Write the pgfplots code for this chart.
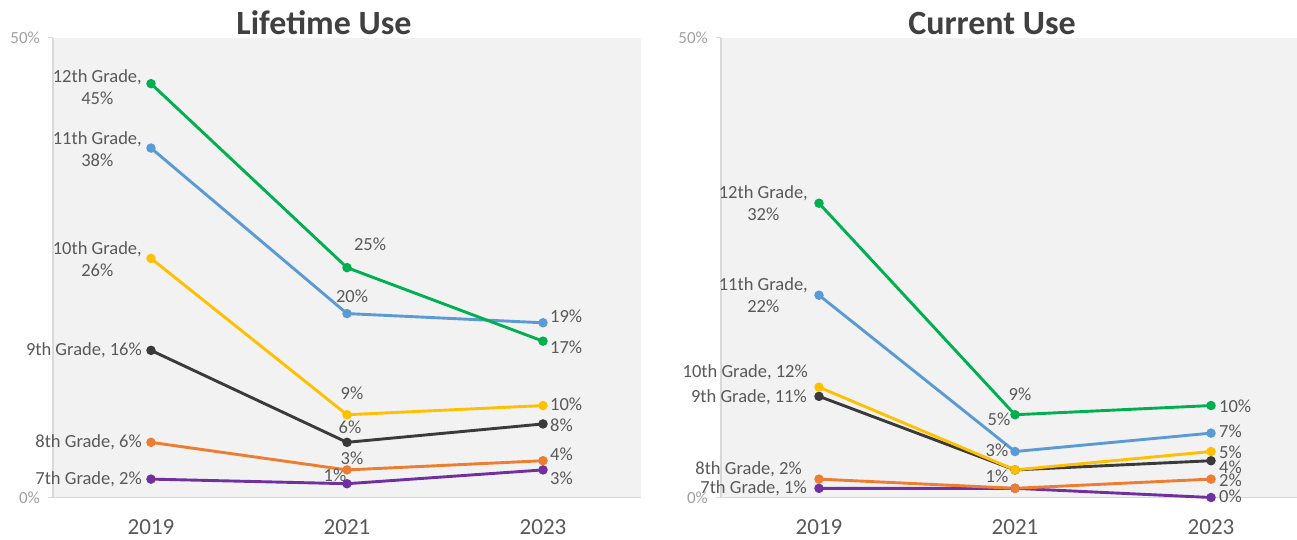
\documentclass[border=0pt]{standalone}
\usepackage{pgfplots}
\pgfplotsset{compat=1.18}
\usepackage{fontspec}
\setmainfont{Carlito}
\definecolor{cgreen}{HTML}{00B050}
\definecolor{cblue}{HTML}{5B9BD5}
\definecolor{cyellow}{HTML}{FFC000}
\definecolor{cblack}{HTML}{3A3A3A}
\definecolor{corange}{HTML}{ED7D31}
\definecolor{cpurple}{HTML}{7030A0}
\definecolor{bggray}{HTML}{F2F2F2}
\definecolor{txtgray}{HTML}{595959}
\definecolor{ticktxt}{HTML}{A0A0A0}
\definecolor{axgray}{HTML}{D9D9D9}
\definecolor{titlegray}{HTML}{404040}
\tikzset{lab/.style={font=\fontsize{18.5}{22}\selectfont, text=txtgray, inner sep=0pt, align=center}}
\pgfplotsset{
  panel/.style={
    scale only axis, height=459.8pt, ymin=0, ymax=50, xmin=2018,
    anchor=south west, clip=false,
    axis background/.style={fill=bggray},
    axis lines=left, axis line style={-, draw=axgray, line width=1.2pt},
    xtick={2019,2021,2023}, xticklabels={2019,2021,2023},
    ytick={0,50}, yticklabels={0\%,50\%},
    x tick style={draw=none}, y tick style={draw=axgray, line width=1pt},
    tick align=outside, major tick length=5pt,
    xticklabel style={font=\fontsize{23}{23}\selectfont, text=txtgray, inner sep=0pt, yshift=-17pt},
    yticklabel style={font=\fontsize{17}{17}\selectfont, text=ticktxt, inner sep=0pt, xshift=-8pt},
  },
  ser/.style={color=#1, line width=2.9pt, mark=*, mark size=3.2pt, mark options={solid}},
}
\begin{document}
\begin{tikzpicture}
\useasboundingbox (0pt,0pt) rectangle (1297pt,539pt);
\node[font=\bfseries\fontsize{34}{40}\selectfont, text=titlegray, anchor=base] at (324pt,504pt) {Lifetime Use};
\node[font=\bfseries\fontsize{34}{40}\selectfont, text=titlegray, anchor=base] at (992pt,504pt) {Current Use};

% ---------------- Lifetime Use ----------------
\begin{axis}[panel, at={(53pt,41.5pt)}, width=588pt, xmax=2024]
\addplot[ser=cpurple] coordinates {(2019,2) (2021,1.5) (2023,3)};
\addplot[ser=corange] coordinates {(2019,6) (2021,3) (2023,4)};
\addplot[ser=cblack] coordinates {(2019,16) (2021,6) (2023,8)};
\addplot[ser=cyellow] coordinates {(2019,26) (2021,9) (2023,10)};
\addplot[ser=cblue] coordinates {(2019,38) (2021,20) (2023,19)};
\addplot[ser=cgreen] coordinates {(2019,45) (2021,25) (2023,17)};
% 2019 labels
\node[lab, anchor=east, xshift=-9pt, yshift=-3pt] at (axis cs:2019,45) {12th Grade,\\45\%};
\node[lab, anchor=east, xshift=-9pt, yshift=-1pt] at (axis cs:2019,38) {11th Grade,\\38\%};
\node[lab, anchor=east, xshift=-9pt, yshift=-1pt] at (axis cs:2019,26) {10th Grade,\\26\%};
\node[lab, anchor=east, xshift=-9pt] at (axis cs:2019,16) {9th Grade, 16\%};
\node[lab, anchor=east, xshift=-9pt] at (axis cs:2019,6) {8th Grade, 6\%};
\node[lab, anchor=east, xshift=-9pt] at (axis cs:2019,2) {7th Grade, 2\%};
% 2021 labels
\node[lab, xshift=23pt, yshift=23pt] at (axis cs:2021,25) {25\%};
\node[lab, xshift=5pt, yshift=17pt] at (axis cs:2021,20) {20\%};
\node[lab, xshift=5pt, yshift=21pt] at (axis cs:2021,9) {9\%};
\node[lab, xshift=3pt, yshift=15pt] at (axis cs:2021,6) {6\%};
\node[lab, xshift=5pt, yshift=12pt] at (axis cs:2021,3) {3\%};
\node[lab, xshift=-12pt, yshift=8pt] at (axis cs:2021,1.5) {1\%};
% 2023 labels
\node[lab, anchor=west, xshift=7pt, yshift=7pt] at (axis cs:2023,19) {19\%};
\node[lab, anchor=west, xshift=7pt, yshift=-6pt] at (axis cs:2023,17) {17\%};
\node[lab, anchor=west, xshift=7pt, yshift=1pt] at (axis cs:2023,10) {10\%};
\node[lab, anchor=west, xshift=7pt, yshift=-1pt] at (axis cs:2023,8) {8\%};
\node[lab, anchor=west, xshift=7pt, yshift=6pt] at (axis cs:2023,4) {4\%};
\node[lab, anchor=west, xshift=7pt, yshift=-8pt] at (axis cs:2023,3) {3\%};
\end{axis}

% ---------------- Current Use ----------------
\begin{axis}[panel, at={(721pt,41.5pt)}, width=576pt, xmax=2023.8776]
\addplot[ser=cpurple] coordinates {(2019,1) (2021,1) (2023,0)};
\addplot[ser=corange] coordinates {(2019,2) (2021,1) (2023,2)};
\addplot[ser=cblack] coordinates {(2019,11) (2021,3) (2023,4)};
\addplot[ser=cyellow] coordinates {(2019,12) (2021,3) (2023,5)};
\addplot[ser=cblue] coordinates {(2019,22) (2021,5) (2023,7)};
\addplot[ser=cgreen] coordinates {(2019,32) (2021,9) (2023,10)};
% 2019 labels
\node[lab, anchor=east, xshift=-11pt] at (axis cs:2019,32) {12th Grade,\\32\%};
\node[lab, anchor=east, xshift=-11pt] at (axis cs:2019,22) {11th Grade,\\22\%};
\node[lab, anchor=east, xshift=-11pt, yshift=15pt] at (axis cs:2019,12) {10th Grade, 12\%};
\node[lab, anchor=east, xshift=-12pt, yshift=-1pt] at (axis cs:2019,11) {9th Grade, 11\%};
\node[lab, anchor=east, xshift=-17pt, yshift=10pt] at (axis cs:2019,2) {8th Grade, 2\%};
\node[lab, anchor=east, xshift=-12pt] at (axis cs:2019,1) {7th Grade, 1\%};
% 2021 labels
\node[lab, xshift=5pt, yshift=20pt] at (axis cs:2021,9) {9\%};
\node[lab, xshift=-16pt, yshift=32pt] at (axis cs:2021,5) {5\%};
\node[lab, xshift=-18pt, yshift=20pt] at (axis cs:2021,3) {3\%};
\node[lab, xshift=-18pt, yshift=12pt] at (axis cs:2021,1) {1\%};
% 2023 labels
\node[lab, anchor=west, xshift=8pt, yshift=-1pt] at (axis cs:2023,10) {10\%};
\node[lab, anchor=west, xshift=8pt, yshift=2pt] at (axis cs:2023,7) {7\%};
\node[lab, anchor=west, xshift=8pt, yshift=-1pt] at (axis cs:2023,5) {5\%};
\node[lab, anchor=west, xshift=8pt, yshift=-7pt] at (axis cs:2023,4) {4\%};
\node[lab, anchor=west, xshift=8pt, yshift=-1pt] at (axis cs:2023,2) {2\%};
\node[lab, anchor=west, xshift=8pt, yshift=1pt] at (axis cs:2023,0) {0\%};
\end{axis}
\end{tikzpicture}
\end{document}
